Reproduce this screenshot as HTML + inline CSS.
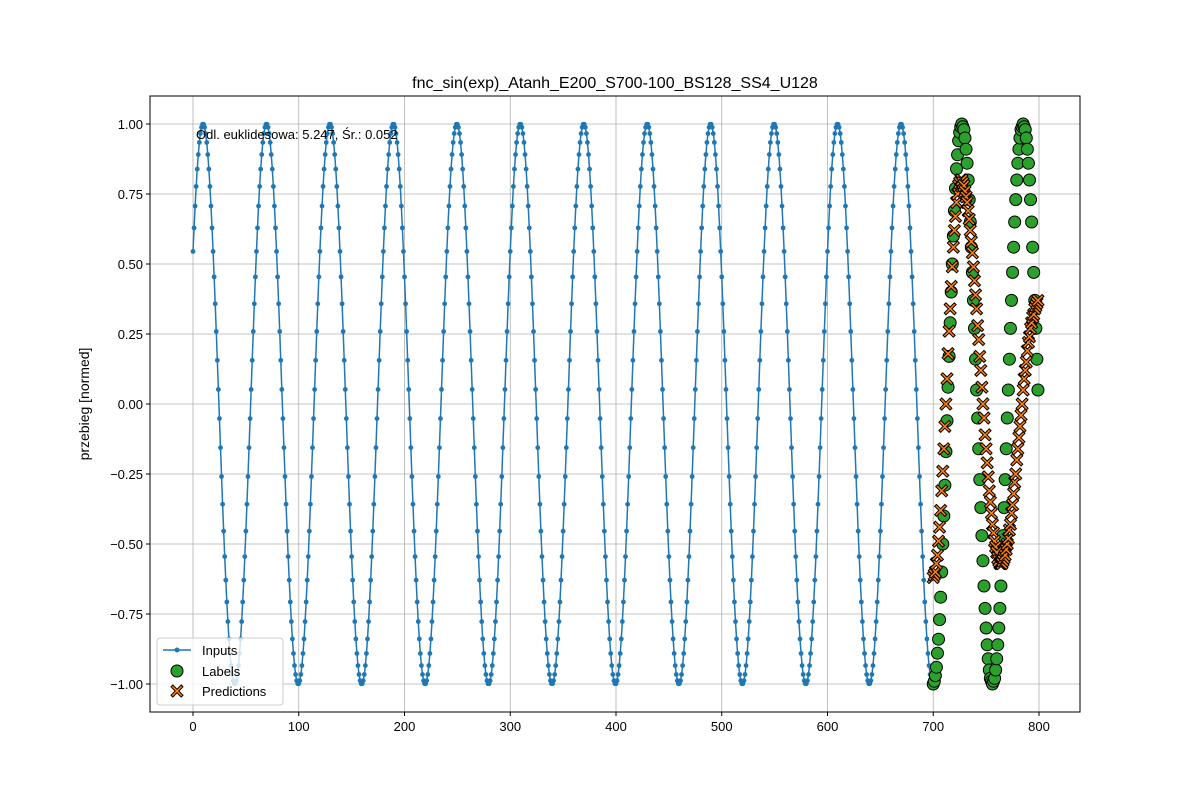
<!DOCTYPE html>
<html><head><meta charset="utf-8"><style>
body{margin:0;background:#fff}
svg{display:block;font-family:"Liberation Sans","DejaVu Sans",sans-serif}
</style></head><body>
<svg id="chart" width="1200" height="800" xmlns="http://www.w3.org/2000/svg">
<rect width="1200" height="800" fill="#fff"/>
<text x="615" y="88" font-size="16" text-anchor="middle">fnc_sin(exp)_Atanh_E200_S700-100_BS128_SS4_U128</text>
<text transform="translate(89,404) rotate(-90)" font-size="14" text-anchor="middle">przebieg [normed]</text>
<g id="grid"></g>
<g id="ticks"></g>
<g id="plot"></g>
<rect x="150" y="96" width="930" height="616" fill="none" stroke="#000" stroke-width="1"/>
<text x="196" y="139" font-size="13">Odl. euklidesowa: 5.247, Śr.: 0.052</text>
<g>
<rect x="157" y="638" width="126" height="67" rx="3" fill="#fff" fill-opacity="0.8" stroke="#ccc"/>
<g><line x1="163" y1="650" x2="191" y2="650" stroke="#1f77b4" stroke-width="1.5"/><circle cx="177" cy="650" r="2.5" fill="#1f77b4"/><text x="202" y="655" font-size="13">Inputs</text></g>
<g><circle cx="177" cy="671" r="6" fill="#2ca02c" stroke="#000"/><text x="202" y="676" font-size="13">Labels</text></g>
<g><path id="legX" fill="#ff7f0e" stroke="#000" stroke-width="1"/><text x="202" y="696" font-size="13">Predictions</text></g>
</g>
</svg>
<script>
const xTicks=[0,100,200,300,400,500,600,700,800];
const yTicks=[-1,-0.75,-0.5,-0.25,0,0.25,0.5,0.75,1];
const yTickLabels=["−1.00","−0.75","−0.50","−0.25","0.00","0.25","0.50","0.75","1.00"];
const inputCycle=[0.545,0.629,0.707,0.777,0.839,0.891,0.934,0.966,0.988,0.999,0.999,0.988,0.966,0.934,0.891,0.839,0.777,0.707,0.629,0.545,0.454,0.358,0.259,0.156,0.052,-0.052,-0.156,-0.259,-0.358,-0.454,-0.545,-0.629,-0.707,-0.777,-0.839,-0.891,-0.934,-0.966,-0.988,-0.999,-0.999,-0.988,-0.966,-0.934,-0.891,-0.839,-0.777,-0.707,-0.629,-0.545,-0.454,-0.358,-0.259,-0.156,-0.052,0.052,0.156,0.259,0.358,0.454];
const inputCount=700;
const labelStart=700;
const labelValues=[-1,-0.99,-0.97,-0.94,-0.89,-0.84,-0.77,-0.69,-0.6,-0.5,-0.4,-0.29,-0.17,-0.06,0.06,0.17,0.29,0.4,0.5,0.6,0.69,0.77,0.84,0.89,0.94,0.97,0.99,1,
0.99,0.98,0.95,0.91,0.86,0.8,0.73,0.65,0.56,0.47,0.37,0.27,0.16,0.05,-0.05,-0.16,-0.27,-0.37,-0.47,-0.56,-0.65,-0.73,-0.8,-0.86,-0.91,-0.95,-0.98,-0.99,-1,
-0.99,-0.98,-0.95,-0.91,-0.86,-0.8,-0.73,-0.65,-0.56,-0.47,-0.37,-0.27,-0.16,-0.05,0.05,0.16,0.27,0.37,0.47,0.56,0.65,0.73,0.8,0.86,0.91,0.95,0.98,0.99,1,
0.99,0.98,0.95,0.91,0.86,0.8,0.73,0.65,0.56,0.47,0.37,0.27,0.16,0.05];
const predValues=[-0.62,-0.61,-0.6,-0.57,-0.54,-0.49,-0.44,-0.38,-0.31,-0.24,-0.16,-0.08,0,0.09,0.18,0.26,0.34,0.42,0.49,0.56,0.62,0.67,0.72,0.75,0.78,0.79,0.8,
0.8,0.79,0.78,0.76,0.74,0.72,0.69,0.66,0.62,0.58,0.54,0.49,0.44,0.39,0.34,0.28,0.23,0.17,0.12,0.06,0,-0.05,-0.11,-0.16,-0.21,-0.26,-0.31,-0.35,-0.39,-0.43,-0.46,-0.49,-0.51,-0.53,-0.55,-0.56,-0.57,-0.57,
-0.57,-0.56,-0.55,-0.54,-0.52,-0.5,-0.48,-0.45,-0.43,-0.39,-0.36,-0.32,-0.28,-0.25,-0.2,-0.16,-0.12,-0.08,-0.04,0,0.05,0.09,0.12,0.15,0.19,0.22,0.24,0.27,0.29,0.31,0.32,0.34,0.35,0.36,0.37];

const NS="http://www.w3.org/2000/svg";
const X=v=>193+v*1.0575;
const Y=v=>404-v*280;
function mk(tag,attrs,parent){const e=document.createElementNS(NS,tag);for(const k in attrs)e.setAttribute(k,attrs[k]);parent.appendChild(e);return e;}
function xPath(cx,cy,s){const a=s*0.3,b=s;return `M${cx-b},${cy-b+a}L${cx-b+a},${cy-b}L${cx},${cy-a}L${cx+b-a},${cy-b}L${cx+b},${cy-b+a}L${cx+a},${cy}L${cx+b},${cy+b-a}L${cx+b-a},${cy+b}L${cx},${cy+a}L${cx-b+a},${cy+b}L${cx-b},${cy+b-a}L${cx-a},${cy}Z`;}
document.getElementById('legX').setAttribute('d',xPath(177,691,6));
const grid=document.getElementById('grid'),ticks=document.getElementById('ticks'),plot=document.getElementById('plot');
xTicks.forEach(t=>{
  const gl=mk('line',{x1:X(t),x2:X(t),y1:96,y2:712,stroke:'#b0b0b0','stroke-width':0.8},grid);
  
  
  mk('line',{x1:X(t),x2:X(t),y1:712,y2:716,stroke:'#000'},ticks);
  const tx=mk('text',{x:X(t),y:731,'font-size':13,'text-anchor':'middle'},ticks);
  tx.textContent=t;
  
  
});
yTicks.forEach((t,i)=>{
  const gl=mk('line',{x1:150,x2:1080,y1:Y(t),y2:Y(t),stroke:'#b0b0b0','stroke-width':0.8},grid);
  
  
  mk('line',{x1:146,x2:150,y1:Y(t),y2:Y(t),stroke:'#000'},ticks);
  const tx=mk('text',{x:143,y:Y(t)+5,'font-size':13,'text-anchor':'end'},ticks);
  tx.textContent=yTickLabels[i];
  
  
});
const inputs=[];for(let i=0;i<inputCount;i++)inputs.push(inputCycle[i%inputCycle.length]);
let d='';inputs.forEach((v,i)=>{d+=(i?'L':'M')+X(i).toFixed(2)+','+Y(v).toFixed(2);});
const ln=mk('path',{d:d,fill:'none',stroke:'#1f77b4','stroke-width':1.5},plot);


inputs.forEach((v,i)=>{
  const c=mk('circle',{cx:X(i),cy:Y(v),r:2.4,fill:'#1f77b4'},plot);
  
  
});
labelValues.forEach((v,i)=>{
  const c=mk('circle',{cx:X(labelStart+i),cy:Y(v),r:6,fill:'#2ca02c',stroke:'#000','stroke-width':1},plot);
  
  
});
predValues.forEach((v,i)=>{
  const p=mk('path',{d:xPath(X(labelStart+i),Y(v),6),fill:'#ff7f0e',stroke:'#000','stroke-width':1},plot);
  
  
});
</script>
</body></html>
